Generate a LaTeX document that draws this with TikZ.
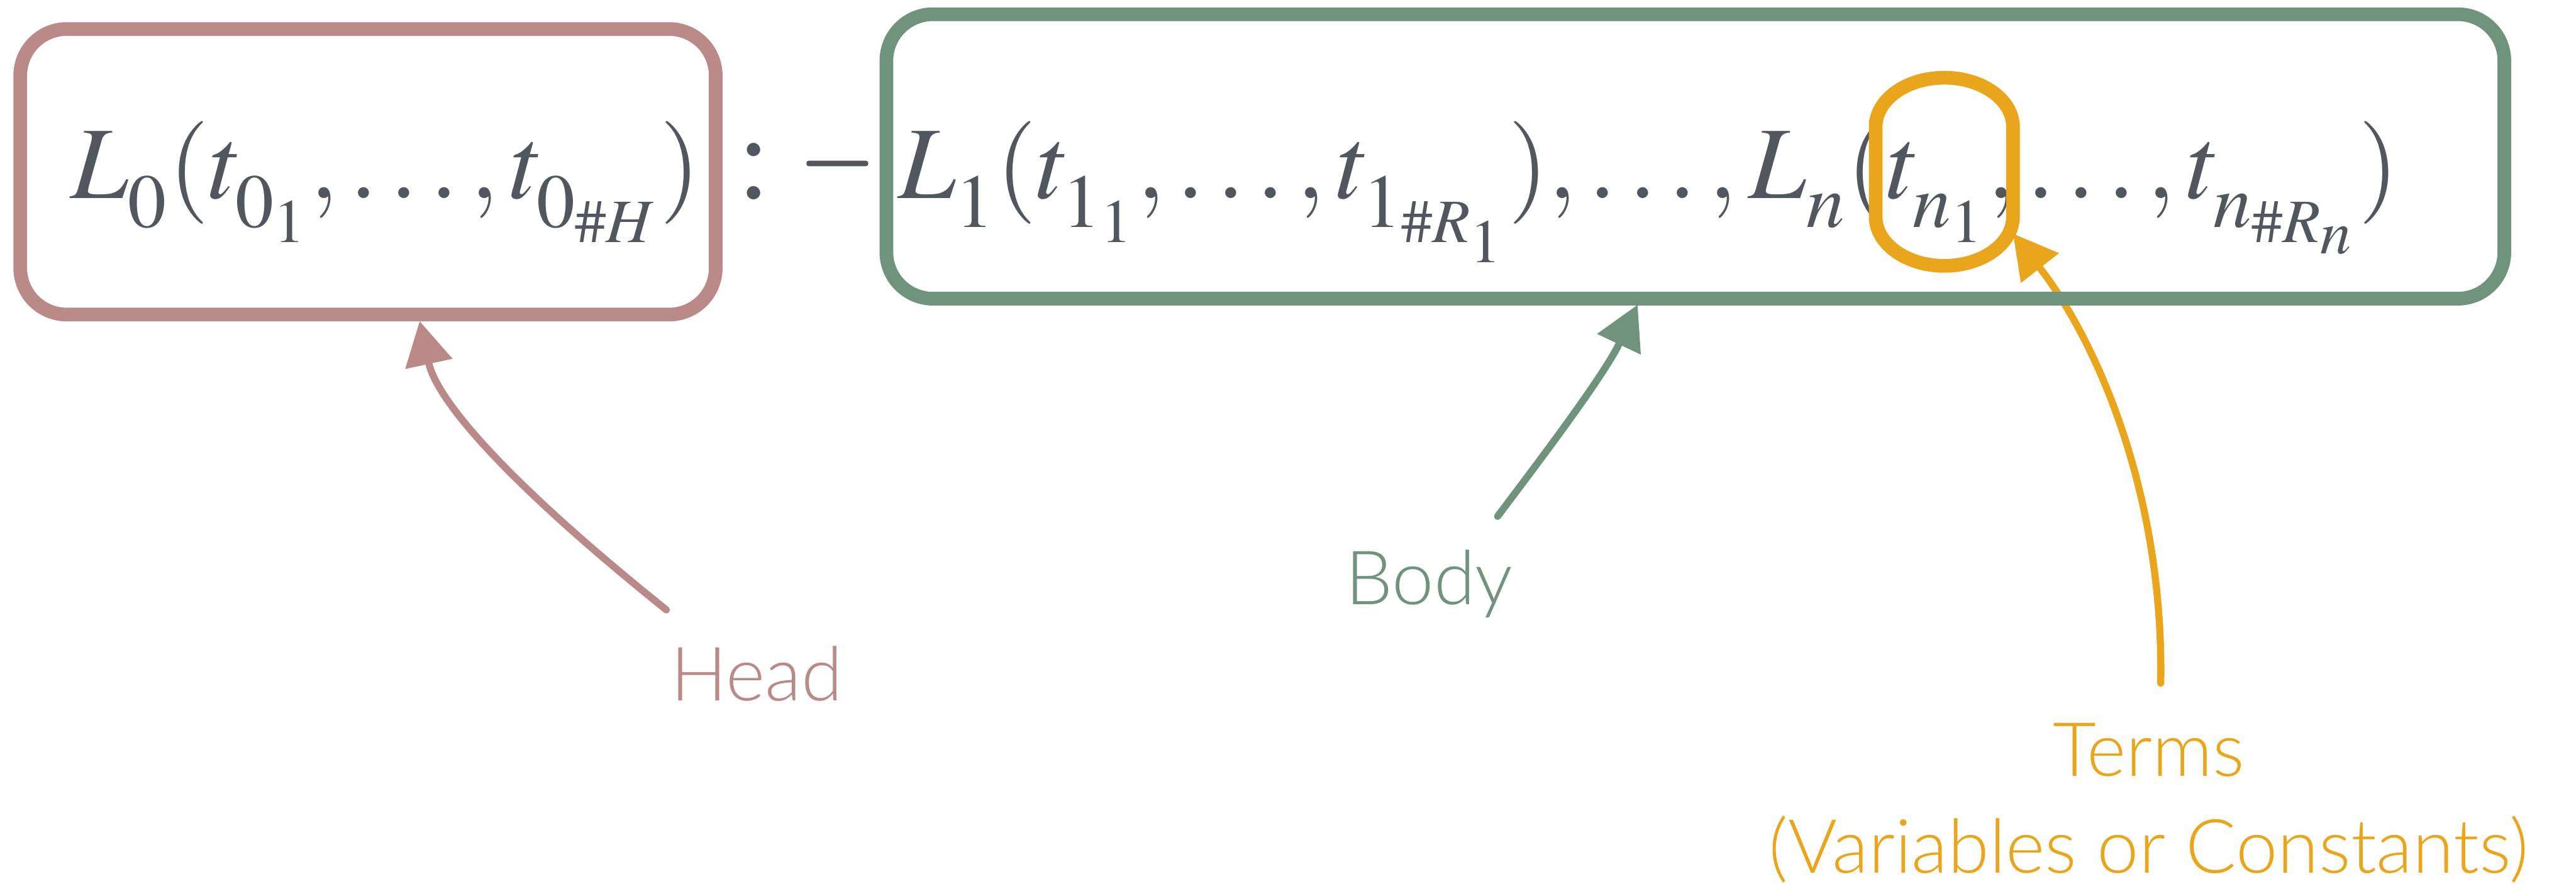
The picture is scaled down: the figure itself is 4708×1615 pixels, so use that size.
\documentclass[tikz,border=0pt]{standalone}
\usepackage{mathptmx}
\usepackage{graphicx}
\usepackage[no-math]{fontspec}
\newfontfamily\lbl{Lato Light}
\usetikzlibrary{arrows.meta}
\definecolor{headc}{HTML}{BA8A89}
\definecolor{bodyc}{HTML}{6F937D}
\definecolor{termc}{HTML}{E9A51C}
\definecolor{txtc}{HTML}{52575F}
\newcommand{\tdots}{\mathinner{{.}\mkern2mu{.}\mkern2mu{.}}}
\newcommand{\subdrop}{\fontdimen16\textfont2=6.2pt \fontdimen16\scriptfont2=3.2pt \fontdimen16\scriptscriptfont2=2.4pt}
\tikzset{
  mathtxt/.style={inner sep=0pt, text=txtc, font=\fontsize{22pt}{26pt}\selectfont},
  labeltxt/.style={inner sep=0pt, font=\lbl\fontsize{13.7pt}{17.7pt}\selectfont, align=center},
  framebox/.style={draw, line width=2.5pt, rounded corners=8.5pt},
  pointer/.style={line width=1.3pt, line cap=round, -{Triangle[length=8pt,width=8.5pt]}},
}
\begin{document}
\begin{tikzpicture}[x=0.1pt,y=-0.1pt]
\useasboundingbox (0,0) rectangle (4708,1615);
% formula
\node[mathtxt, anchor=base west] (headf) at (127,363)
  {\resizebox{115.1pt}{14.1pt}{$\subdrop L_0(t_{0_1},\tdots,t_{0_{\#H}})$}};
\node[mathtxt, anchor=base] (colon) at (1378,363) {$:$};
\node[mathtxt, anchor=base] (minus) at (1531,363) {\scalebox{0.84}[1.15]{$-$}};
\node[mathtxt, anchor=base west] (bodyf) at (1640,363)
  {\resizebox{274.2pt}{14.1pt}{$\subdrop L_1(t_{1_1},\tdots,t_{1_{\#R_1}}),\tdots,L_n(t_{n_1},\tdots,t_{n_{\#R_n}})$}};
% labels
\node[labeltxt, text=headc, anchor=base] (headl) at (1383,1281) {Head};
\node[labeltxt, text=bodyc, anchor=base] (bodyl) at (2612,1105) {Body};
\node[labeltxt, text=termc, anchor=north] (terml) at (3927,1320) {Terms\\(Variables or Constants)};
% arrow ends
\coordinate (headtail) at (1218,1115);
\coordinate (headtip) at (767,587);
\coordinate (bodytail) at (2737,944);
\coordinate (bodytip) at (2993,557);
\coordinate (termtail) at (3949,1249);
\coordinate (termtip) at (3679,427);
% arrows
\draw[pointer, headc] (headtail) .. controls (950,900) and (800,740) .. (headtip);
\draw[pointer, bodyc] (bodytail) .. controls (2800,860) and (2930,690) .. (bodytip);
\draw[pointer, termc] (termtail) .. controls (3955,900) and (3830,620) .. (termtip);
% frames
\draw[framebox, headc] (37,53) rectangle (1308,575);
\draw[framebox, bodyc] (1620,26) rectangle (4577,546);
\draw[draw=termc, line width=2.5pt] (3428,232) -- (3428,396)
  arc[start angle=180, end angle=360, x radius=12.55pt, y radius=9pt]
  -- (3679,232)
  arc[start angle=0, end angle=180, x radius=12.55pt, y radius=9pt] -- cycle;
\end{tikzpicture}
\end{document}
